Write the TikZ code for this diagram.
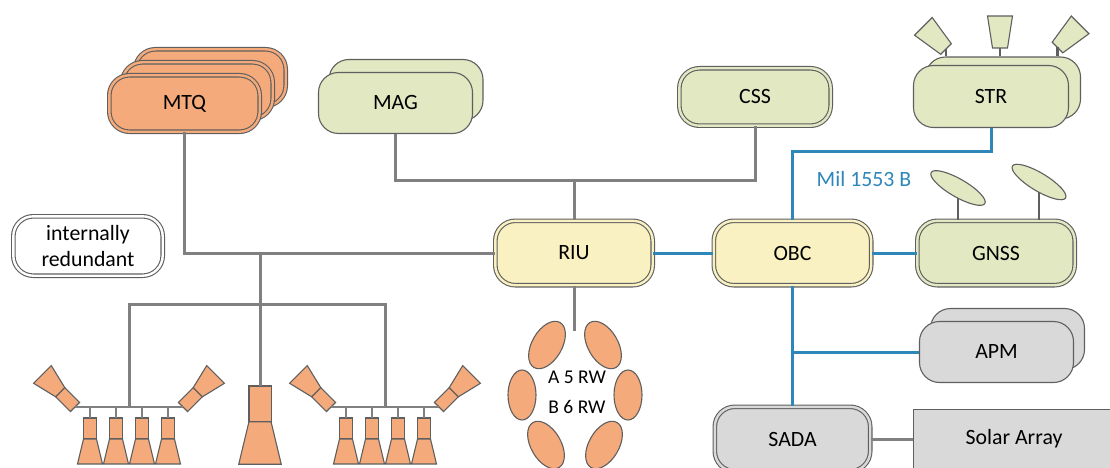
\documentclass[tikz,border=0pt]{standalone}
\usepackage{fontspec}
\setmainfont{Carlito}
\usepackage{tikz}
\definecolor{edge}{HTML}{5F5F5F}
\definecolor{wire}{HTML}{808080}
\definecolor{bus}{HTML}{2E86B9}
\definecolor{act}{HTML}{F4AA7B}
\definecolor{sens}{HTML}{E1E8C2}
\definecolor{comp}{HTML}{F9F1C1}
\definecolor{pwr}{HTML}{D9D9D9}
\newcommand{\thruster}[4]{%
	\begin{scope}[shift={(#2)},rotate=#3,scale=#4]
		\coordinate (#1) at (0,0);
		\draw[thr] (-6.5,0) rectangle (6.5,21);
		\draw[thr] (-6.5,21) -- (6.5,21) -- (12.5,46) -- (-12.5,46) -- cycle;
	\end{scope}}
\newcommand{\antenna}[3]{%
	\begin{scope}[shift={(#2)},rotate=#3]
		\coordinate (#1) at (0,0);
		\draw[ant] (-7.5,0) -- (7.5,0) -- (12.5,-32) -- (-12.5,-32) -- cycle;
	\end{scope}}

\begin{document}
\begin{tikzpicture}[x=1pt,y=-1pt,font=\fontsize{21.8}{26}\selectfont,
		sbox/.style={draw=edge,line width=1.1pt,rounded corners=20pt,inner sep=0pt,minimum width=154pt,minimum height=61pt},
		dbox/.style={sbox,fill=#1,double=#1,double distance=2.4pt},
		gline/.style={draw=wire,line width=3pt},
		bline/.style={draw=bus,line width=3pt},
		tline/.style={draw=wire,line width=2pt},
		aline/.style={draw=edge,line width=2.2pt},
		thr/.style={draw=edge,line width=1.1pt,fill=act},
		ant/.style={draw=edge,line width=1.1pt,fill=sens},
		rw/.style={draw=edge,line width=1.1pt,fill=act}]
		\clip (0,0) rectangle (1110,468);
		%
		\node[dbox=act,minimum width=150.4pt,minimum height=56.4pt] (mtqc) at (210.5,77.5) {};
		\node[dbox=act,minimum width=150.4pt,minimum height=56.4pt] (mtqb) at (197.5,90.5) {};
		\node[dbox=act,minimum width=150.4pt,minimum height=56.4pt] (mtq) at (184.5,103.5) {MTQ};
		\node[sbox,fill=sens] (magb) at (406,90) {};
		\node[sbox,fill=sens] (mag) at (395.5,103) {MAG};
		\node[dbox=sens,minimum width=151.4pt,minimum height=57.4pt] (css) at (755,97) {CSS};
		\node[sbox,fill=sens,minimum width=155pt,minimum height=62pt] (strb) at (1003,88) {};
		\node[sbox,fill=sens,minimum width=155pt,minimum height=62pt] (str) at (991,96.5) {STR};
		\node[dbox=comp,minimum width=157.4pt,minimum height=64.4pt] (riu) at (574,253) {RIU};
		\node[dbox=comp,minimum width=157.4pt,minimum height=64.4pt] (obc) at (792.5,253) {OBC};
		\node[dbox=sens,minimum width=157.4pt,minimum height=64.4pt] (gnss) at (996,253) {GNSS};
		\node[sbox,fill=pwr] (apmb) at (1007.5,339) {};
		\node[sbox,fill=pwr] (apm) at (996.5,352) {APM};
		\node[dbox=pwr,minimum width=155.4pt,minimum height=64.4pt] (sada) at (792.5,439) {SADA};
		\node[sbox,fill=pwr,rounded corners=0pt,minimum width=201pt,minimum height=59pt] (sa) at (1014,439) {Solar Array};
		\node[dbox=white,minimum width=149.4pt,minimum height=59.4pt,align=center] (red) at (88,246) {internally\\redundant};
		%
		\node[text=bus] (mil) at (864,179) {Mil 1553 B};
		\node[font=\fontsize{19.5}{24}\selectfont] (rwa) at (577,377) {A 5 RW};
		\node[font=\fontsize{19.5}{24}\selectfont] (rwb) at (577,407) {B 6 RW};
		%
		\coordinate (jm) at (574,180);
		\coordinate (jt) at (260,253);
		\coordinate (tb) at (260,304);
		\coordinate (la) at (129,407);
		\coordinate (ra) at (385,407);
		\coordinate (rwt) at (574,331);
		\coordinate (b1) at (792.5,151);
		%
		\draw[gline] (mtq.south) |- (riu.west);
		\draw[gline] (mag.south) |- (jm) -| (css.south);
		\draw[gline] (jm) -- (riu.north);
		\draw[gline] (riu.south) -- (rwt);
		\draw[gline] (jt) -- (tb);
		\draw[gline] (la) |- (tb) -| (ra);
		\draw[gline] (sada) -- (sa);
		%
		\draw[bline] (riu) -- (obc);
		\draw[bline] (obc) -- (gnss);
		\draw[bline] (obc.north) -- (b1) -| (str.south);
		\draw[bline] (obc.south) -- (sada.north);
		\draw[bline] (obc.south |- apm.west) -- (apm.west);
		%
		\thruster{big}{260,386}{0}{1.7}
		\draw[gline] (tb) -- (big);
		\thruster{ls}{75,407}{-135}{1}
		\thruster{la1}{90,418}{0}{1}
		\thruster{la2}{116,418}{0}{1}
		\thruster{la3}{142,418}{0}{1}
		\thruster{la4}{168,418}{0}{1}
		\thruster{le}{183,407}{135}{1}
		\draw[tline] (ls) -- (le);
		\draw[tline] (la1) -- (la1 |- la);
		\draw[tline] (la2) -- (la2 |- la);
		\draw[tline] (la3) -- (la3 |- la);
		\draw[tline] (la4) -- (la4 |- la);
		\thruster{rs}{331,407}{-135}{1}
		\thruster{ra1}{346,418}{0}{1}
		\thruster{ra2}{372,418}{0}{1}
		\thruster{ra3}{398,418}{0}{1}
		\thruster{ra4}{424,418}{0}{1}
		\thruster{re}{439,407}{135}{1}
		\draw[tline] (rs) -- (re);
		\draw[tline] (ra1) -- (ra1 |- ra);
		\draw[tline] (ra2) -- (ra2 |- ra);
		\draw[tline] (ra3) -- (ra3 |- ra);
		\draw[tline] (ra4) -- (ra4 |- ra);
		%
		\coordinate (rw1) at (547,345);
		\coordinate (rw2) at (603,345);
		\coordinate (rw3) at (522,395);
		\coordinate (rw4) at (628,395);
		\coordinate (rw5) at (546,445);
		\coordinate (rw6) at (604,445);
		\draw[rw,rotate around={60:(rw1)}] (rw1) ellipse (26 and 15);
		\draw[rw,rotate around={120:(rw2)}] (rw2) ellipse (26 and 15);
		\draw[rw,rotate around={90:(rw3)}] (rw3) ellipse (25 and 14);
		\draw[rw,rotate around={90:(rw4)}] (rw4) ellipse (25 and 14);
		\draw[rw,rotate around={120:(rw5)}] (rw5) ellipse (26 and 15);
		\draw[rw,rotate around={60:(rw6)}] (rw6) ellipse (26 and 15);
		%
		\antenna{s1}{946,49}{45}
		\antenna{s2}{1000,48}{0}
		\antenna{s3}{1057.5,47.5}{-45}
		\draw[aline] (s1) -- (s1 |- strb.north);
		\draw[aline] (s2) -- (s2 |- strb.north);
		\draw[aline] (s3) -- (s3 |- strb.north);
		%
		\coordinate (g1) at (958,188);
		\coordinate (g2) at (1039,182);
		\draw[aline] (g1) -- (g1 |- gnss.north);
		\draw[aline] (g2) -- (g2 |- gnss.north);
		\draw[ant,rotate around={-30:(g1)}] (g1) ellipse (31 and 9);
		\draw[ant,rotate around={-31:(g2)}] (g2) ellipse (31 and 9);
	\end{tikzpicture}
\end{document}
